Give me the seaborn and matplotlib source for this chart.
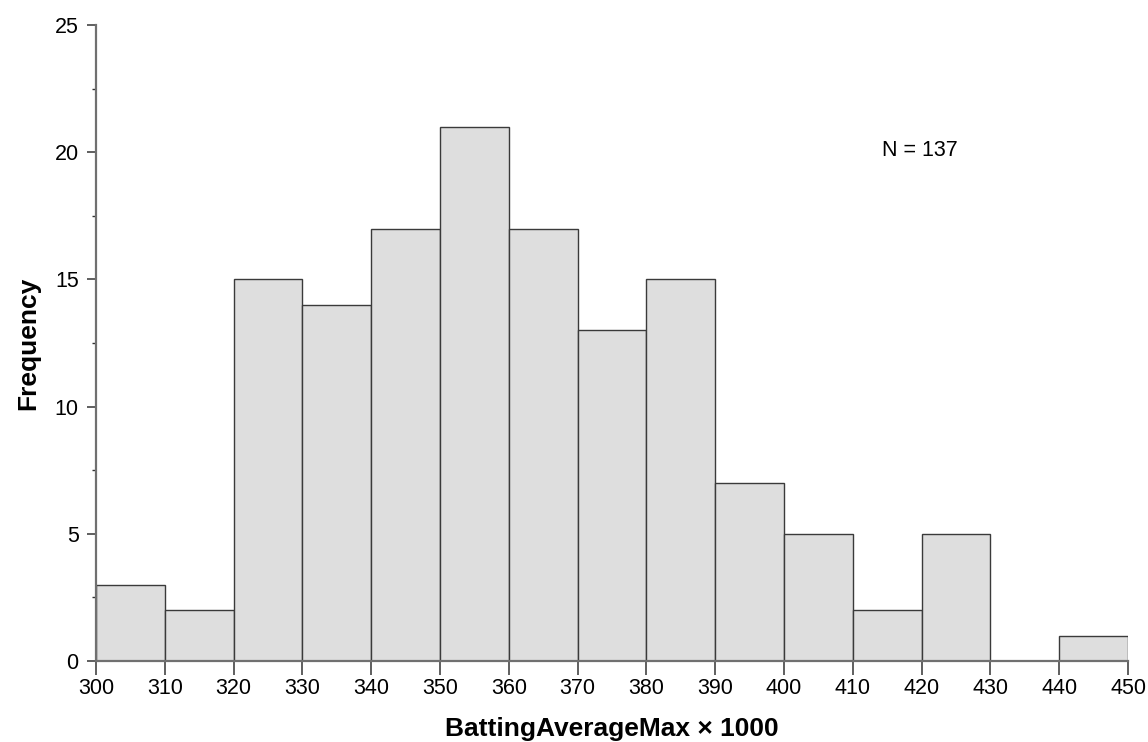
import numpy as np
import pandas as pd
import matplotlib
matplotlib.use("Agg")
import matplotlib.pyplot as plt
import seaborn as sns
from matplotlib.ticker import MultipleLocator

# Histogram bins (BattingAverageMax x 1000) and counts
bin_edges = [300, 310, 320, 330, 340, 350, 360, 370, 380, 390, 400, 410, 420, 430, 440, 450]
bin_centers = [305, 315, 325, 335, 345, 355, 365, 375, 385, 395, 405, 415, 425, 435, 445]
counts = [3, 2, 15, 14, 17, 21, 17, 13, 15, 7, 5, 2, 5, 0, 1]
n_label = "N = 137"

sns.set_theme(style="ticks")
plt.rcParams['font.family'] = ['Liberation Sans', 'DejaVu Sans']
plt.rcParams['text.color'] = 'black'
plt.rcParams['axes.labelcolor'] = 'black'

df = pd.DataFrame({'value': bin_centers, 'count': counts})

fig = plt.figure(figsize=(11.48, 7.42), dpi=100)
ax = fig.add_axes([96 / 1148, 1 - 661 / 742, (1128 - 96) / 1148, (661 - 25) / 742])

sns.histplot(data=df, x='value', weights='count', bins=bin_edges,
             color='#dedede', edgecolor='#3a3a3a', linewidth=1.0, alpha=1.0, ax=ax)

ax.set_xlim(300, 450)
ax.set_ylim(0, 25)
ax.set_xticks(bin_edges)
ax.yaxis.set_major_locator(MultipleLocator(5))
ax.yaxis.set_minor_locator(MultipleLocator(2.5))
ax.tick_params(axis='x', which='major', direction='out', length=10, width=1.2,
               color='#444444', labelsize=15.5, labelcolor='black', pad=2)
ax.tick_params(axis='y', which='major', direction='out', length=6.5, width=1.2,
               color='#444444', labelsize=15.5, labelcolor='black', pad=6)
ax.tick_params(axis='y', which='minor', direction='out', length=3, width=1, color='#333333')

sns.despine(ax=ax)
for side in ['left', 'bottom']:
    ax.spines[side].set_color('#707070')
    ax.spines[side].set_linewidth(1.6)

ax.set_xlabel('BattingAverageMax × 1000', fontsize=19, fontweight='bold', color='black')
ax.set_ylabel('Frequency', fontsize=19, fontweight='bold', color='black')
ax.xaxis.set_label_coords(0.5, -0.088)
ax.yaxis.set_label_coords(-0.054, 0.5)

ax.text((882 - 96) / 1032, (661 - 150) / 636, n_label, transform=ax.transAxes,
        fontsize=15.5, ha='left', va='center', color='black')

fig.savefig('out.png', dpi=100)
